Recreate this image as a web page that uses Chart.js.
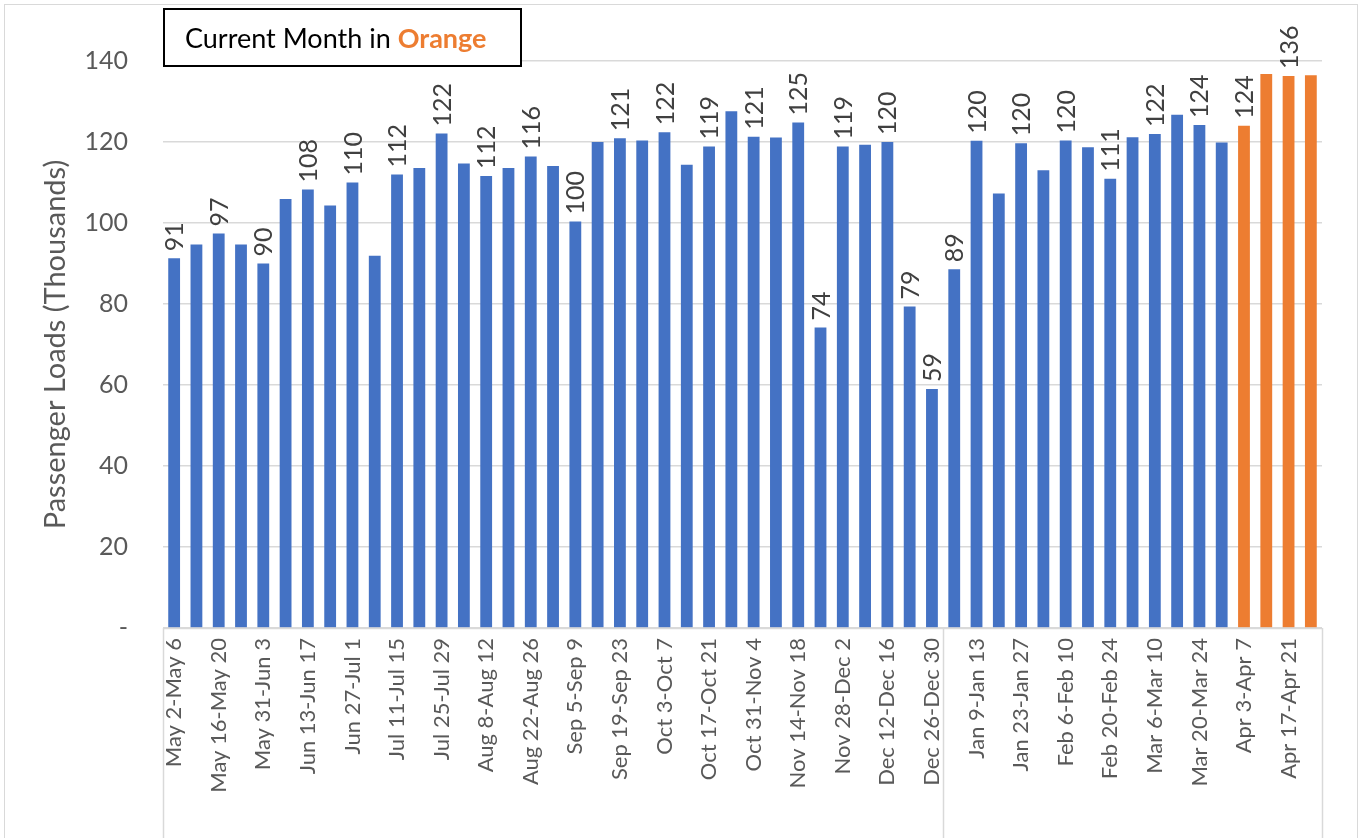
<!DOCTYPE html>
<html>
<head>
<meta charset="utf-8">
<script src="https://cdn.jsdelivr.net/npm/chart.js@4.4.0/dist/chart.umd.min.js"></script>
<style>
  html, body { margin: 0; padding: 0; background: #fff; }
</style>
</head>
<body>
<canvas id="loadsChart" width="1362" height="838"></canvas>
<script>
// weekly categories (2021 then 2022)
const weeks = [
  'May 2-May 6', 'May 9-May 13', 'May 16-May 20', 'May 23-May 27', 'May 31-Jun 3',
  'Jun 6-Jun 10', 'Jun 13-Jun 17', 'Jun 20-Jun 24', 'Jun 27-Jul 1', 'Jul 4-Jul 8',
  'Jul 11-Jul 15', 'Jul 18-Jul 22', 'Jul 25-Jul 29', 'Aug 1-Aug 5', 'Aug 8-Aug 12',
  'Aug 15-Aug 19', 'Aug 22-Aug 26', 'Aug 29-Sep 2', 'Sep 5-Sep 9', 'Sep 12-Sep 16',
  'Sep 19-Sep 23', 'Sep 26-Sep 30', 'Oct 3-Oct 7', 'Oct 10-Oct 14', 'Oct 17-Oct 21',
  'Oct 24-Oct 28', 'Oct 31-Nov 4', 'Nov 7-Nov 11', 'Nov 14-Nov 18', 'Nov 21-Nov 25',
  'Nov 28-Dec 2', 'Dec 5-Dec 9', 'Dec 12-Dec 16', 'Dec 19-Dec 23', 'Dec 26-Dec 30',
  'Jan 2-Jan 6', 'Jan 9-Jan 13', 'Jan 16-Jan 20', 'Jan 23-Jan 27', 'Jan 30-Feb 3',
  'Feb 6-Feb 10', 'Feb 13-Feb 17', 'Feb 20-Feb 24', 'Feb 27-Mar 3', 'Mar 6-Mar 10',
  'Mar 13-Mar 17', 'Mar 20-Mar 24', 'Mar 27-Mar 31', 'Apr 3-Apr 7', 'Apr 10-Apr 14',
  'Apr 17-Apr 21', 'Apr 24-Apr 28'
];

// passenger loads, thousands
const loads = [
  91.3, 94.7, 97.4, 94.7, 90.0, 105.9, 108.3, 104.3, 110.0, 91.9,
  112.0, 113.6, 122.1, 114.7, 111.6, 113.6, 116.4, 114.1, 100.4, 120.0,
  120.9, 120.4, 122.4, 114.4, 118.9, 127.6, 121.3, 121.1, 124.8, 74.2,
  118.9, 119.3, 120.0, 79.4, 59.0, 88.6, 120.3, 107.3, 119.7, 113.0,
  120.4, 118.7, 110.9, 121.2, 122.0, 126.7, 124.2, 119.9, 124.0, 136.8,
  136.3, 136.5
];

// which bars carry a value label
const labelledWeeks = [
  0, 2, 4, 6, 8, 10, 12, 14, 16, 18, 20, 22, 24, 26, 28, 29, 30, 32, 33, 34,
  35, 36, 38, 40, 42, 44, 46, 48, 50
];

const yTicks = [0, 20, 40, 60, 80, 100, 120, 140];
const currentMonth = 'Apr';
const yearStart = 'Jan 2-Jan 6';

const blue = '#4472C4';
const orange = '#ED7D31';
const grey = '#595959';
const fontFamily = 'Lato, "Open Sans", sans-serif';

const barColors = weeks.map(w => w.startsWith(currentMonth) ? orange : blue);

// light frame round the whole chart
const framePlugin = {
    id: 'frame',
    beforeDraw(chart) {
        const ctx = chart.ctx;
        ctx.save();
        ctx.strokeStyle = '#d9d9d9';
        ctx.lineWidth = 1;
        ctx.strokeRect(4.5, 4.5, chart.width - 9, chart.height + 10);
        ctx.restore();
    },
    afterDraw(chart) {
        const ctx = chart.ctx;
        const area = chart.chartArea;
        const x = chart.scales.x;

        // axis line and the year group dividers
        ctx.save();
        ctx.strokeStyle = '#d9d9d9';
        ctx.lineWidth = 1.5;
        ctx.beginPath();
        ctx.moveTo(area.left, area.bottom + 0.5);
        ctx.lineTo(area.right, area.bottom + 0.5);
        const split = weeks.indexOf(yearStart);
        const splitX = (x.getPixelForValue(split - 1) + x.getPixelForValue(split)) / 2;
        [area.left, splitX, area.right].forEach(px => {
            ctx.moveTo(Math.round(px) + 0.5, area.bottom);
            ctx.lineTo(Math.round(px) + 0.5, chart.height);
        });
        ctx.stroke();
        ctx.restore();

        // value labels above bars
        const meta = chart.getDatasetMeta(0);
        ctx.save();
        ctx.font = '25px ' + fontFamily;
        ctx.fillStyle = '#404040';
        ctx.textAlign = 'left';
        ctx.textBaseline = 'middle';
        labelledWeeks.forEach(i => {
            const bar = meta.data[i];
            ctx.save();
            ctx.translate(bar.x, bar.y - 7);
            ctx.rotate(-Math.PI / 2);
            ctx.fillText(String(Math.round(loads[i])), 0, 1);
            ctx.restore();
        });
        ctx.restore();

        // note box
        ctx.save();
        ctx.fillStyle = '#fff';
        ctx.fillRect(163, 8, 359, 59);
        ctx.strokeStyle = '#000';
        ctx.lineWidth = 2;
        ctx.strokeRect(164, 9, 357, 57);
        ctx.textBaseline = 'alphabetic';
        ctx.textAlign = 'left';
        ctx.font = '27px ' + fontFamily;
        ctx.fillStyle = '#000';
        const lead = 'Current Month in ';
        ctx.fillText(lead, 185, 48);
        const w = ctx.measureText(lead).width;
        ctx.font = 'bold 27px ' + fontFamily;
        ctx.fillStyle = orange;
        ctx.fillText('Orange', 185 + w, 48);
        ctx.restore();
    }
};

const ctx = document.getElementById('loadsChart').getContext('2d');

new Chart(ctx, {
    type: 'bar',
    data: {
        labels: weeks,
        datasets: [{
            label: 'Passenger Loads',
            data: loads,
            backgroundColor: barColors,
            borderWidth: 0,
            barPercentage: 0.53,
            categoryPercentage: 1.0
        }]
    },
    options: {
        responsive: false,
        animation: false,
        layout: { padding: { top: 61, right: 40, left: 0, bottom: 0 } },
        plugins: {
            legend: { display: false },
            tooltip: { enabled: false },
            title: { display: false }
        },
        scales: {
            y: {
                min: 0,
                max: 140,
                afterFit(scale) { scale.width = 163; },
                afterBuildTicks(scale) { scale.ticks = yTicks.map(v => ({ value: v })); },
                border: { display: false },
                grid: {
                    color: '#d9d9d9',
                    lineWidth: 1.5,
                    drawTicks: false
                },
                ticks: {
                    padding: 35,
                    color: grey,
                    font: { family: fontFamily, size: 25 },
                    callback: v => v === 0 ? '-' : v
                },
                title: {
                    display: true,
                    text: 'Passenger Loads (Thousands)',
                    color: grey,
                    font: { family: fontFamily, size: 29 },
                    padding: { top: 38, bottom: 0 }
                }
            },
            x: {
                afterFit(scale) { scale.height = 210; },
                border: { display: false },
                grid: { display: false, drawTicks: false },
                ticks: {
                    autoSkip: false,
                    maxRotation: 90,
                    minRotation: 90,
                    padding: 10,
                    color: grey,
                    font: { family: fontFamily, size: 22 },
                    callback: (v, i) => i % 2 === 0 ? weeks[i] : ''
                }
            }
        }
    },
    plugins: [framePlugin]
});
</script>
</body>
</html>
